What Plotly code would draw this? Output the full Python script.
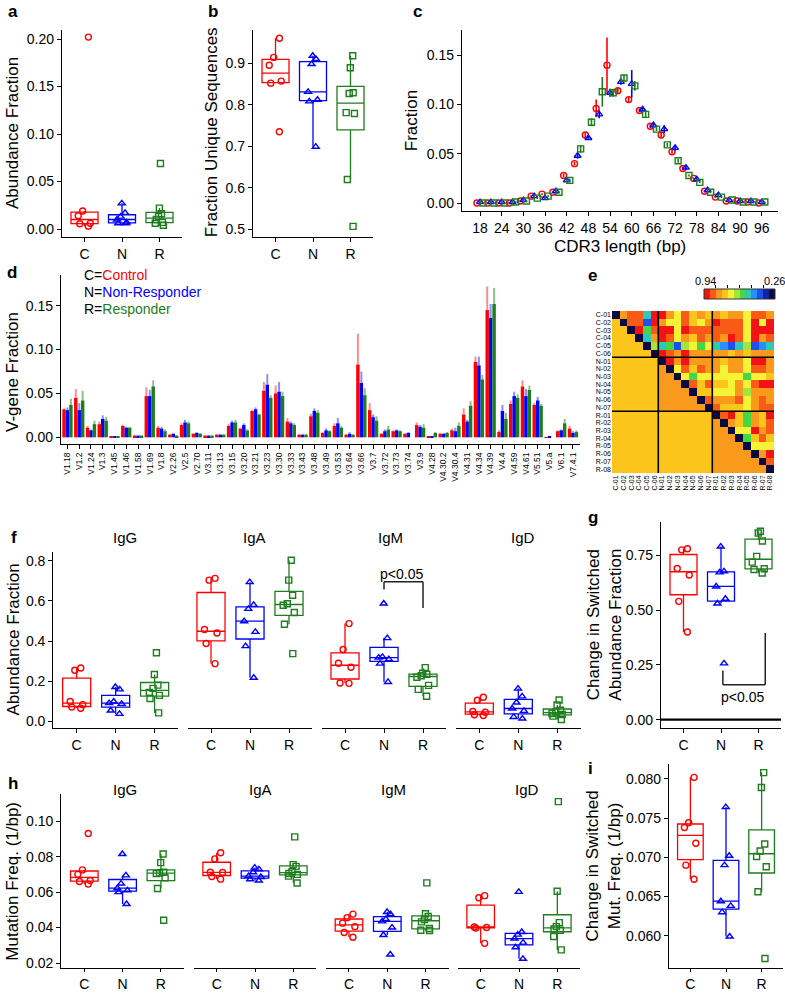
import numpy as np
import plotly.graph_objects as go

W, H = 785, 994
FONT = 'Liberation Sans, Arial, Helvetica, sans-serif'
RED, BLUE, GREEN = '#FF0000', '#0000FF', '#1E7D1E'
COLS = {'C': RED, 'N': BLUE, 'R': GREEN}
ERRC = {'C': 'rgba(255,0,0,0.45)', 'N': 'rgba(0,0,255,0.45)', 'R': 'rgba(30,125,30,0.5)'}
SYMS = {'C': 'circle-open', 'N': 'triangle-up-open', 'R': 'square-open'}
GROUPS = ['C', 'N', 'R']

# ---------------- data ----------------
# a: abundance fraction
a_vals = {
    'C': [0.202, 0.019, 0.014, 0.006, 0.0055, 0.003],
    'N': [0.027, 0.017, 0.013, 0.010, 0.007, 0.006, 0.006],
    'R': [0.069, 0.022, 0.016, 0.013, 0.010, 0.007, 0.006, 0.004],
}
# b: fraction unique sequences
b_vals = {
    'C': [0.960, 0.914, 0.895, 0.857, 0.852, 0.735],
    'N': [0.918, 0.910, 0.898, 0.831, 0.812, 0.808, 0.699],
    'R': [0.918, 0.889, 0.829, 0.827, 0.781, 0.779, 0.620, 0.507],
}
# c: CDR3 length distribution (mean, se)
cdr3_len = [18, 21, 24, 27, 30, 33, 36, 39, 42, 45, 48, 51, 54, 57, 60, 63, 66, 69, 72, 75, 78, 81, 84, 87, 90, 93, 96]
c_mean = {
    'C': [0.000, 0.000, 0.000, 0.000, 0.002, 0.007, 0.009, 0.011, 0.028, 0.040, 0.069, 0.096, 0.140, 0.114,
          0.105, 0.094, 0.078, 0.069, 0.052, 0.035, 0.025, 0.012, 0.006, 0.002, 0.002, 0.001, 0.000],
    'N': [0.001, 0.001, 0.001, 0.001, 0.003, 0.007, 0.005, 0.012, 0.023, 0.048, 0.066, 0.090, 0.112, 0.123,
          0.121, 0.095, 0.079, 0.075, 0.056, 0.036, 0.024, 0.013, 0.008, 0.003, 0.002, 0.002, 0.001],
    'R': [0.000, 0.000, 0.000, 0.001, 0.002, 0.005, 0.007, 0.011, 0.023, 0.055, 0.082, 0.113, 0.112, 0.127,
          0.119, 0.090, 0.075, 0.059, 0.043, 0.028, 0.021, 0.011, 0.006, 0.003, 0.001, 0.001, 0.001],
}
c_se = {
    'C': [0.0005, 0.0005, 0.0005, 0.0005, 0.001, 0.001, 0.001, 0.001, 0.002, 0.002, 0.003, 0.009, 0.028, 0.003,
          0.003, 0.002, 0.002, 0.003, 0.002, 0.002, 0.001, 0.001, 0.001, 0.0005, 0.0005, 0.0005, 0.0005],
    'N': [0.0005, 0.0005, 0.0005, 0.0005, 0.001, 0.001, 0.001, 0.001, 0.002, 0.003, 0.002, 0.004, 0.004, 0.003,
          0.014, 0.003, 0.003, 0.004, 0.003, 0.002, 0.001, 0.001, 0.001, 0.0005, 0.0005, 0.0005, 0.0005],
    'R': [0.0005, 0.0005, 0.0005, 0.0005, 0.001, 0.001, 0.001, 0.001, 0.002, 0.004, 0.004, 0.015, 0.004, 0.003,
          0.005, 0.003, 0.002, 0.002, 0.002, 0.001, 0.001, 0.001, 0.001, 0.0005, 0.0005, 0.0005, 0.0005],
}
# d: V-gene usage (mean, se)
v_genes = ['V1.18', 'V1.2', 'V1.24', 'V1.3', 'V1.45', 'V1.46', 'V1.58', 'V1.69', 'V1.8', 'V2.26', 'V2.5',
           'V2.70', 'V3.11', 'V3.13', 'V3.15', 'V3.20', 'V3.21', 'V3.23', 'V3.30', 'V3.33', 'V3.43', 'V3.48',
           'V3.49', 'V3.53', 'V3.64', 'V3.66', 'V3.7', 'V3.72', 'V3.73', 'V3.74', 'V3.9', 'V4.28', 'V4.30.2',
           'V4.30.4', 'V4.31', 'V4.34', 'V4.39', 'V4.4', 'V4.59', 'V4.61', 'V5.51', 'V5.a', 'V6.1', 'V7.4.1']
d_mean = {
    'C': [0.032, 0.045, 0.011, 0.015, 0.0005, 0.013, 0.002, 0.047, 0.011, 0.003, 0.014, 0.004, 0.002, 0.003,
          0.013, 0.010, 0.030, 0.053, 0.050, 0.018, 0.003, 0.024, 0.005, 0.013, 0.003, 0.083, 0.031, 0.004,
          0.007, 0.004, 0.014, 0.001, 0.004, 0.008, 0.026, 0.086, 0.145, 0.006, 0.038, 0.058, 0.037, 0.0003,
          0.007, 0.010],
    'N': [0.031, 0.031, 0.008, 0.021, 0.001, 0.011, 0.002, 0.047, 0.010, 0.004, 0.017, 0.005, 0.002, 0.003,
          0.017, 0.014, 0.032, 0.060, 0.052, 0.016, 0.003, 0.030, 0.008, 0.016, 0.004, 0.062, 0.023, 0.007,
          0.008, 0.005, 0.012, 0.001, 0.004, 0.007, 0.018, 0.082, 0.136, 0.030, 0.047, 0.047, 0.042, 0.0008,
          0.008, 0.005],
    'R': [0.037, 0.042, 0.015, 0.019, 0.001, 0.011, 0.002, 0.058, 0.007, 0.002, 0.016, 0.004, 0.002, 0.003,
          0.017, 0.008, 0.026, 0.045, 0.047, 0.014, 0.003, 0.028, 0.007, 0.011, 0.003, 0.048, 0.019, 0.009,
          0.007, 0.000, 0.011, 0.005, 0.005, 0.013, 0.036, 0.066, 0.152, 0.021, 0.045, 0.054, 0.036, 0.000,
          0.016, 0.006],
}
d_se = {
    'C': [0.001, 0.010, 0.002, 0.003, 0.0003, 0.001, 0.001, 0.010, 0.002, 0.001, 0.002, 0.001, 0.0005, 0.001,
          0.002, 0.001, 0.001, 0.010, 0.009, 0.004, 0.001, 0.003, 0.001, 0.003, 0.001, 0.035, 0.008, 0.001,
          0.001, 0.001, 0.003, 0.0005, 0.001, 0.002, 0.007, 0.006, 0.027, 0.002, 0.004, 0.007, 0.002, 0.0002,
          0.001, 0.003],
    'N': [0.003, 0.008, 0.001, 0.004, 0.0003, 0.001, 0.0005, 0.007, 0.002, 0.001, 0.003, 0.001, 0.0005, 0.001,
          0.002, 0.002, 0.002, 0.012, 0.011, 0.002, 0.001, 0.003, 0.002, 0.006, 0.002, 0.013, 0.003, 0.002,
          0.001, 0.001, 0.002, 0.0005, 0.001, 0.004, 0.002, 0.010, 0.016, 0.007, 0.005, 0.008, 0.004, 0.0003,
          0.001, 0.002],
    'R': [0.007, 0.011, 0.004, 0.004, 0.0003, 0.001, 0.0005, 0.007, 0.002, 0.0005, 0.002, 0.001, 0.0005, 0.001,
          0.003, 0.001, 0.001, 0.003, 0.005, 0.002, 0.001, 0.003, 0.001, 0.002, 0.0005, 0.008, 0.005, 0.004,
          0.001, 0.000, 0.004, 0.001, 0.001, 0.004, 0.005, 0.005, 0.018, 0.007, 0.004, 0.005, 0.002, 0.000,
          0.005, 0.002],
}
# e: sample similarity matrix (upper triangle per row, diagonal, lower-triangle shading)
e_labels = ['C-01', 'C-02', 'C-03', 'C-04', 'C-05', 'C-06', 'N-01', 'N-02', 'N-03', 'N-04', 'N-05', 'N-06',
            'N-07', 'R-01', 'R-02', 'R-03', 'R-04', 'R-05', 'R-06', 'R-07', 'R-08']
e_upper = [
    [0.80, 0.86, 0.86, 0.52, 0.91, 0.91, 0.80, 0.69, 0.86, 0.74, 0.80, 0.74, 0.80, 0.74, 0.80, 0.80, 0.69, 0.86, 0.86, 0.80],
    [0.86, 0.86, 0.40, 0.91, 0.80, 0.69, 0.69, 0.86, 0.74, 0.69, 0.80, 0.91, 0.86, 0.86, 0.86, 0.69, 0.91, 0.69, 0.91],
    [0.91, 0.57, 0.86, 0.91, 0.91, 0.69, 0.91, 0.86, 0.86, 0.86, 0.86, 0.86, 0.86, 0.86, 0.69, 0.91, 0.91, 0.91],
    [0.52, 0.80, 0.91, 0.86, 0.69, 0.80, 0.74, 0.86, 0.80, 0.86, 0.80, 0.91, 0.86, 0.69, 0.91, 0.80, 0.86],
    [0.63, 0.52, 0.57, 0.40, 0.63, 0.69, 0.57, 0.69, 0.52, 0.46, 0.40, 0.52, 0.63, 0.40, 0.46, 0.52],
    [0.91, 0.86, 0.80, 0.91, 0.80, 0.80, 0.80, 0.80, 0.80, 0.74, 0.80, 0.74, 0.80, 0.80, 0.80],
    [0.91, 0.80, 0.91, 0.80, 0.80, 0.80, 0.80, 0.74, 0.80, 0.80, 0.69, 0.91, 0.91, 0.80],
    [0.69, 0.86, 0.74, 0.86, 0.80, 0.80, 0.69, 0.80, 0.80, 0.69, 0.86, 0.86, 0.80],
    [0.69, 0.57, 0.69, 0.69, 0.69, 0.69, 0.69, 0.69, 0.57, 0.69, 0.69, 0.74],
    [0.86, 0.74, 0.86, 0.74, 0.74, 0.69, 0.80, 0.69, 0.86, 0.91, 0.91],
    [0.74, 0.74, 0.69, 0.69, 0.69, 0.80, 0.63, 0.80, 0.80, 0.80],
    [0.86, 0.80, 0.80, 0.80, 0.86, 0.69, 0.80, 0.86, 0.80],
    [0.86, 0.74, 0.74, 0.74, 0.69, 0.80, 0.86, 0.86],
    [0.86, 0.91, 0.74, 0.57, 0.80, 0.74, 0.91],
    [0.80, 0.74, 0.57, 0.80, 0.74, 0.86],
    [0.69, 0.69, 0.91, 0.80, 0.86],
    [0.57, 0.74, 0.86, 0.74],
    [0.69, 0.69, 0.69],
    [0.80, 0.91],
    [0.86],
]
e_diag = 0.26
e_lower_within = {'C': 0.74, 'N': 0.80, 'R': 0.80}
e_lower_between = 0.74
key_levels = [0.91, 0.86, 0.80, 0.74, 0.69, 0.63, 0.57, 0.52, 0.46, 0.40, 0.35, 0.28]
heat_colors = ['#0b0b40', '#1022a8', '#1f50ee', '#2590ff', '#2ec8b4', '#45d845',
               '#a6e53e', '#f6f336', '#fbc51c', '#fa9a1c', '#f95a16', '#f21414']

# f: isotype abundance fraction
f_iso = ['IgG', 'IgA', 'IgM', 'IgD']
f_igg = {'C': [0.266, 0.255, 0.100, 0.084, 0.072, 0.066],
         'N': [0.172, 0.160, 0.100, 0.092, 0.088, 0.055, 0.038],
         'R': [0.342, 0.234, 0.181, 0.165, 0.145, 0.130, 0.115, 0.043]}
f_iga = {'C': [0.712, 0.703, 0.458, 0.440, 0.388, 0.288],
         'N': [0.693, 0.580, 0.560, 0.499, 0.446, 0.375, 0.218],
         'R': [0.802, 0.703, 0.628, 0.586, 0.578, 0.542, 0.484, 0.338]}
f_igm = {'C': [0.487, 0.358, 0.290, 0.270, 0.192, 0.190],
         'N': [0.587, 0.415, 0.322, 0.318, 0.310, 0.288, 0.197],
         'R': [0.268, 0.240, 0.235, 0.228, 0.220, 0.180, 0.160, 0.126]}
f_igd = {'C': [0.121, 0.106, 0.050, 0.046, 0.034, 0.030],
         'N': [0.164, 0.125, 0.095, 0.065, 0.053, 0.023, 0.015],
         'R': [0.107, 0.082, 0.056, 0.048, 0.040, 0.035, 0.027, 0.010]}
# g: change in switched abundance fraction
g_vals = {'C': [0.780, 0.775, 0.690, 0.660, 0.540, 0.400],
          'N': [0.790, 0.677, 0.672, 0.608, 0.552, 0.530, 0.257],
          'R': [0.860, 0.852, 0.815, 0.745, 0.719, 0.689, 0.685, 0.669]}
# h: mutation frequency
h_igg = {'C': [0.0930, 0.0725, 0.0700, 0.0665, 0.0660, 0.0645],
         'N': [0.0815, 0.0694, 0.0648, 0.0622, 0.0610, 0.0600, 0.0533],
         'R': [0.0815, 0.0766, 0.0712, 0.0708, 0.0705, 0.0680, 0.0620, 0.0441]}
h_iga = {'C': [0.0822, 0.0787, 0.0712, 0.0710, 0.0688, 0.0673],
         'N': [0.0738, 0.0728, 0.0712, 0.0690, 0.0685, 0.0672, 0.0665],
         'R': [0.0911, 0.0755, 0.0745, 0.0715, 0.0705, 0.0700, 0.0690, 0.0651]}
h_igm = {'C': [0.0476, 0.0456, 0.0425, 0.0405, 0.0372, 0.0345],
         'N': [0.0488, 0.0475, 0.0448, 0.0435, 0.0400, 0.0358, 0.0248],
         'R': [0.0652, 0.0478, 0.0462, 0.0445, 0.0432, 0.0395, 0.0385, 0.0383]}
h_igd = {'C': [0.0580, 0.0568, 0.0403, 0.0400, 0.0397, 0.0311],
         'N': [0.0601, 0.0375, 0.0360, 0.0338, 0.0315, 0.0289, 0.0224],
         'R': [0.1110, 0.0605, 0.0428, 0.0405, 0.0392, 0.0385, 0.0350, 0.0274]}
# i: change in switched mutation frequency
i_vals = {'C': [0.0802, 0.0744, 0.0738, 0.0718, 0.0690, 0.0672],
          'N': [0.0764, 0.0702, 0.0690, 0.0644, 0.0638, 0.0630, 0.0599],
          'R': [0.0808, 0.0789, 0.0717, 0.0708, 0.0701, 0.0688, 0.0656, 0.0571]}

# ---------------- figure ----------------
fig = go.Figure()


def ref(n):
    return ('x' if n == 1 else f'x{n}'), ('y' if n == 1 else f'y{n}')


def set_axes(n, xpx, ypx, xrange, yrange, xkw=None, ykw=None):
    base = dict(showline=True, linecolor='black', linewidth=1.3, ticks='outside', ticklen=4,
                tickwidth=1.2, tickcolor='black', showgrid=False, zeroline=False, automargin=False,
                tickfont=dict(size=14, color='black', family=FONT))
    xa = dict(base, domain=[xpx[0] / W, xpx[1] / W], range=xrange, anchor=ref(n)[1])
    ya = dict(base, domain=[1 - ypx[1] / H, 1 - ypx[0] / H], range=yrange, anchor=ref(n)[0])
    xa.update(xkw or {})
    ya.update(ykw or {})
    xn = 'xaxis' if n == 1 else f'xaxis{n}'
    yn = 'yaxis' if n == 1 else f'yaxis{n}'
    fig.update_layout(**{xn: xa, yn: ya})


CAT = dict(type='category', categoryorder='array', categoryarray=GROUPS)
CAT_LOW = dict(CAT, ticklen=3)


def add_box(n, grp, vals):
    v = np.sort(np.asarray(vals, dtype=float))
    q1, med, q3 = np.percentile(v, [25, 50, 75])
    iqr = q3 - q1
    lo = v[v >= q1 - 1.5 * iqr].min()
    hi = v[v <= q3 + 1.5 * iqr].max()
    xr, yr = ref(n)
    fig.add_trace(go.Box(
        x=[grp], y=[list(vals)], q1=[q1], median=[med], q3=[q3],
        lowerfence=[lo], upperfence=[hi],
        boxpoints='all', jitter=0.55, pointpos=0, width=0.72, whiskerwidth=0,
        fillcolor='rgba(255,255,255,0)',
        line=dict(color=COLS[grp], width=1.3),
        marker=dict(symbol=SYMS[grp], size=6, color=COLS[grp],
                    line=dict(width=1.4, color=COLS[grp])),
        xaxis=xr, yaxis=yr, showlegend=False, hoverinfo='skip'))


def box_panel(n, data):
    for g in GROUPS:
        add_box(n, g, data[g])


def note(text, x, y, size=14, xanchor='center', **kw):
    fig.add_annotation(text=text, x=x / W, y=1 - y / H, xref='paper', yref='paper',
                       xanchor=xanchor, yanchor='middle', showarrow=False,
                       font=dict(size=size, color='black', family=FONT), **kw)


CATR = [-0.6, 2.6]

# a
box_panel(1, a_vals)
set_axes(1, (62, 182), (30, 237), CATR, [-0.0084, 0.2095], CAT,
         dict(tickvals=[0, 0.05, 0.10, 0.15, 0.20], tickformat='.2f'))
# b
box_panel(2, b_vals)
set_axes(2, (253, 373), (30, 237), CATR, [0.4815, 0.980], CAT,
         dict(tickvals=[0.5, 0.6, 0.7, 0.8, 0.9], tickformat='.1f'))

# c
dodge = {'C': -0.85, 'N': 0.0, 'R': 0.85}
for g in GROUPS:
    fig.add_trace(go.Scatter(
        x=[L + dodge[g] for L in cdr3_len], y=c_mean[g], mode='markers',
        marker=dict(symbol=SYMS[g], size=6, color=COLS[g], line=dict(width=1.4, color=COLS[g])),
        error_y=dict(type='data', array=c_se[g], color=COLS[g], thickness=1.6, width=0),
        xaxis='x3', yaxis='y3', showlegend=False, hoverinfo='skip'))
set_axes(3, (462, 778), (30, 211), [13, 100.5], [-0.0081, 0.1757],
         dict(tickvals=list(range(18, 97, 6))),
         dict(tickvals=[0, 0.05, 0.10, 0.15], tickformat='.2f'))

# d
for g in GROUPS:
    fig.add_trace(go.Bar(
        x=v_genes, y=d_mean[g], marker=dict(color=COLS[g], line=dict(width=0)),
        error_y=dict(type='data', symmetric=False, array=d_se[g], arrayminus=[0] * len(v_genes),
                     color=ERRC[g], thickness=2, width=0),
        xaxis='x4', yaxis='y4', showlegend=False, hoverinfo='skip'))
set_axes(4, (61, 580), (275, 444), [-0.55, 43.6], [-0.0076, 0.185],
         dict(type='category', tickangle=-90, tickfont=dict(size=8.5, color='black', family=FONT)),
         dict(tickvals=[0, 0.05, 0.10, 0.15], tickformat='.2f'))

# e
n_e = len(e_labels)
Z = np.full((n_e, n_e), np.nan)
for i in range(n_e):
    Z[i, i] = e_diag
    if i < len(e_upper):
        for k, val in enumerate(e_upper[i]):
            Z[i, i + 1 + k] = val
    for j in range(i):
        gi, gj = e_labels[i][0], e_labels[j][0]
        Z[i, j] = e_lower_within[gi] if gi == gj else e_lower_between
ncol = len(heat_colors)
cscale = []
for k, col in enumerate(heat_colors):
    cscale += [[k / ncol, col], [(k + 1) / ncol, col]]
fig.add_trace(go.Heatmap(z=Z, x=list(range(n_e)), y=list(range(n_e)), colorscale=cscale,
                         zmin=0.26, zmax=0.94, showscale=False, xaxis='x5', yaxis='y5',
                         hoverinfo='skip'))
small = dict(size=7, color='black', family=FONT)
set_axes(5, (612, 774), (311, 473), [-0.5, n_e - 0.5], [n_e - 0.5, -0.5],
         dict(showline=False, ticks='', tickvals=list(range(n_e)), ticktext=e_labels,
              tickangle=-90, tickfont=small),
         dict(showline=False, ticks='', tickvals=list(range(n_e)), ticktext=e_labels,
              tickfont=small))
for pos in [5.5, 12.5]:
    fig.add_shape(type='line', xref='x5', yref='y5', x0=pos, x1=pos, y0=-0.5, y1=n_e - 0.5,
                  line=dict(color='black', width=1.6))
    fig.add_shape(type='line', xref='x5', yref='y5', y0=pos, y1=pos, x0=-0.5, x1=n_e - 0.5,
                  line=dict(color='black', width=1.6))
# colour key
fig.add_trace(go.Heatmap(z=[key_levels], x=list(range(len(key_levels))), y=[0],
                         colorscale=cscale, zmin=0.26, zmax=0.94, showscale=False,
                         xaxis='x6', yaxis='y6', hoverinfo='skip'))
nk = len(key_levels)
set_axes(6, (704, 775), (289, 299), [-0.5, nk - 0.5], [-0.5, 0.5],
         dict(showline=False, side='top', ticklen=3, tickvals=[1.5, 3.5, 5.5, 7.5, 9.5],
              showticklabels=False),
         dict(visible=False))
fig.add_shape(type='rect', xref='x6 domain', yref='y6 domain', x0=0, x1=1, y0=0, y1=1,
              line=dict(color='#333333', width=1))

# f
f_sets = [f_igg, f_iga, f_igm, f_igd]
f_x = [(53.3, 178), (187.6, 312.4), (321.6, 446.4), (455.9, 580.7)]
for k, data in enumerate(f_sets):
    n = 7 + k
    box_panel(n, data)
    yk = dict(tickvals=[0, 0.2, 0.4, 0.6, 0.8], tickformat='.1f')
    if k > 0:
        yk = dict(visible=False)
    set_axes(n, f_x[k], (552, 728), CATR, [-0.032, 0.843], CAT, yk)
# p<0.05 bracket on IgM
for x0, y0, x1, y1 in [(1, 0.657, 1, 0.695), (1, 0.695, 2, 0.695), (2, 0.695, 2, 0.565)]:
    fig.add_shape(type='line', xref='x9', yref='y9', x0=x0, y0=y0, x1=x1, y1=y1,
                  line=dict(color='#222222', width=1.5))
fig.add_annotation(text='p<0.05', x=1.45, y=0.736, xref='x9', yref='y9', showarrow=False,
                   xanchor='center', yanchor='middle',
                   font=dict(size=14, color='black', family=FONT))

# g
box_panel(11, g_vals)
set_axes(11, (661, 781), (522, 728), CATR, [-0.038, 0.902], CAT,
         dict(tickvals=[0, 0.25, 0.5, 0.75], tickformat='.2f'))
fig.add_shape(type='line', xref='x11 domain', yref='y11', x0=0, x1=1, y0=0, y1=0,
              line=dict(color='black', width=2.2))
for x0, y0, x1, y1 in [(1.05, 0.224, 1.05, 0.159), (1.05, 0.159, 2.18, 0.159), (2.18, 0.159, 2.18, 0.396)]:
    fig.add_shape(type='line', xref='x11', yref='y11', x0=x0, y0=y0, x1=x1, y1=y1,
                  line=dict(color='#222222', width=1.5))
fig.add_annotation(text='p<0.05', x=1.56, y=0.102, xref='x11', yref='y11', showarrow=False,
                   xanchor='center', yanchor='middle',
                   font=dict(size=14, color='black', family=FONT))

# h
h_sets = [h_igg, h_iga, h_igm, h_igd]
h_x = [(61.3, 183.9), (193.7, 316.3), (326, 448.6), (457.7, 580.3)]
for k, data in enumerate(h_sets):
    n = 12 + k
    box_panel(n, data)
    yk = dict(tickvals=[0.02, 0.04, 0.06, 0.08, 0.10], tickformat='.2f')
    if k > 0:
        yk = dict(visible=False)
    set_axes(n, h_x[k], (794, 968), CATR, [0.0172, 0.1153], CAT_LOW, yk)

# i
box_panel(16, i_vals)
set_axes(16, (669, 783), (764, 968), CATR, [0.05588, 0.0819], CAT_LOW,
         dict(tickvals=[0.060, 0.065, 0.070, 0.075, 0.080], tickformat='.3f'))

# ---------------- text ----------------
for lab, x, y in [('a', 13, 11), ('b', 213, 11), ('c', 417, 11), ('d', 12, 272), ('e', 592, 275),
                  ('f', 14, 537), ('g', 593, 517), ('h', 13, 783), ('i', 590, 768)]:
    note(f'<b>{lab}</b>', x, y, size=17)

note('Abundance Fraction', 12.5, 133.5, size=17, textangle=-90)
note('Fraction Unique Sequences', 211.7, 132.5, size=17, textangle=-90)
note('Fraction', 411.7, 120.5, size=17, textangle=-90)
note('CDR3 length (bp)', 620, 246.7, size=17)
note('V-gene Fraction', 12, 372, size=17, textangle=-90)
note('Abundance Fraction', 12.5, 640, size=17, textangle=-90)
note('Change in Switched<br>Abundance Fraction', 603.7, 625, size=17, textangle=-90)
note('Mutation Freq. (1/bp)', 11.7, 881, size=17, textangle=-90)
note('Change in Switched<br>Mut. Freq. (1/bp)', 602.5, 866, size=17, textangle=-90)
note('0.94', 705, 281, size=11)
note('0.26', 774, 281, size=11)

for name, x in zip(f_iso, [125, 254, 390, 523]):
    note(name, x, 537.7, size=15)
for name, x in zip(f_iso, [125, 260, 393, 527]):
    note(name, x, 789, size=15)

for y, txt in [(275, f'C=<span style="color:{RED}">Control</span>'),
               (292, f'N=<span style="color:{BLUE}">Non-Responder</span>'),
               (309, f'R=<span style="color:{GREEN}">Responder</span>')]:
    note(txt, 82, y, size=14, xanchor='left')

fig.update_layout(
    width=W, height=H, margin=dict(l=0, r=0, t=0, b=0, autoexpand=False),
    plot_bgcolor='white', paper_bgcolor='white', showlegend=False,
    bargap=0.12, bargroupgap=0, barmode='group', boxmode='overlay',
    font=dict(family=FONT, color='black'),
)

fig.write_html("out.html", config={'displayModeBar': False},
               post_script="document.body.style.margin='0px';")
